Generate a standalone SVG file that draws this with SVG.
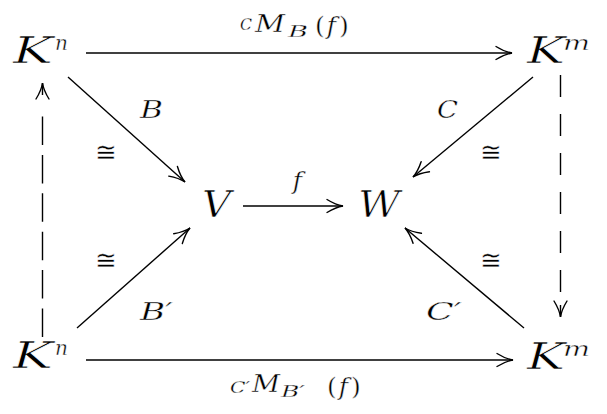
<svg xmlns="http://www.w3.org/2000/svg" width="607" height="414" viewBox="0 0 607 414">
<style>
.m{font-family:'DejaVu Serif',serif;font-style:italic;fill:#000;stroke:#fff;stroke-width:0.4}
.n{font-size:38px;stroke-width:0.65}
.s{font-size:20px;stroke-width:0.4}
.l{font-size:25px}
.sub{font-size:17px;stroke-width:0.3}
.up{font-style:normal}
.iso{font-family:'DejaVu Serif',serif;font-size:26px;font-style:normal;fill:#000;stroke:#fff;stroke-width:0.4}
.ln{stroke:#000;stroke-width:1.4;fill:none}
</style>
<defs>
<marker id="ah" markerUnits="userSpaceOnUse" viewBox="-18 -9 20 18" refX="0" refY="0" markerWidth="20" markerHeight="18" orient="auto" overflow="visible">
<path d="M -16 -6.5 C -10 -2.8 -4 -0.6 0 0 C -4 0.6 -10 2.8 -16 6.5" stroke="#000" stroke-width="1.4" fill="none" stroke-linecap="round"/>
</marker>
</defs>
<rect width="607" height="414" fill="#fff"/>
<g id="connectors">
<path id="e-top" class="ln" d="M 86 53 L 512 53" marker-end="url(#ah)"/>
<path id="e-bottom" class="ln" d="M 86 360 L 513 360" marker-end="url(#ah)"/>
<path id="e-f" class="ln" d="M 243 206 L 343 206" marker-end="url(#ah)"/>
<path id="e-B" class="ln" d="M 68 77 L 185 182" marker-end="url(#ah)"/>
<path id="e-C" class="ln" d="M 533 77 L 413 177" marker-end="url(#ah)"/>
<path id="e-Bp" class="ln" d="M 77 328 L 190 228" marker-end="url(#ah)"/>
<path id="e-Cp" class="ln" d="M 524 328 L 405 228" marker-end="url(#ah)"/>
<path id="e-left" class="ln" d="M 42.5 337 L 42.5 83" stroke-dasharray="28.5 9.9 28.5 9.9 28.5 9.9 28.5 9.9 28.5 9.9 28.5 21.5 12.5" marker-end="url(#ah)"/>
<path id="e-right" class="ln" d="M 560.5 75 L 560.5 317" stroke-dasharray="22 17 22 17 22 17 22 17 22 17 22 13 12" marker-end="url(#ah)"/>
</g>
<g id="labels">
<text class="m" y="30"><tspan class="sub" x="240" textLength="12" lengthAdjust="spacingAndGlyphs">C</tspan><tspan class="l" x="255" y="32" textLength="30" lengthAdjust="spacingAndGlyphs">M</tspan><tspan class="sub" x="288" y="37" textLength="20" lengthAdjust="spacingAndGlyphs">B</tspan><tspan class="l up" x="315" y="34">(</tspan><tspan class="l" dx="2">f</tspan><tspan class="l up" dx="3">)</tspan></text>
<text class="m" y="393"><tspan class="sub" x="230" textLength="20" lengthAdjust="spacingAndGlyphs">C′</tspan><tspan class="l" x="252" y="392" textLength="28" lengthAdjust="spacingAndGlyphs">M</tspan><tspan class="sub" x="281" y="397" textLength="24" lengthAdjust="spacingAndGlyphs">B′</tspan><tspan class="l up" x="327" y="395">(</tspan><tspan class="l" dx="2">f</tspan><tspan class="l up" dx="3">)</tspan></text>
<text class="m l" x="297.5" y="189" text-anchor="middle">f</text>
<text class="m l" x="140" y="118" textLength="23" lengthAdjust="spacingAndGlyphs">B</text>
<text class="m l" x="437" y="118" textLength="21" lengthAdjust="spacingAndGlyphs">C</text>
<text class="m l" x="140" y="320" textLength="33" lengthAdjust="spacingAndGlyphs">B′</text>
<text class="m l" x="426" y="320" textLength="36" lengthAdjust="spacingAndGlyphs">C′</text>
<text class="iso" x="106" y="161" text-anchor="middle">≅</text>
<text class="iso" x="491" y="161" text-anchor="middle">≅</text>
<text class="iso" x="106" y="269" text-anchor="middle">≅</text>
<text class="iso" x="491" y="269" text-anchor="middle">≅</text>
</g>
<g id="node-Kn-top"><text class="m n" x="13" y="63"><tspan textLength="40" lengthAdjust="spacingAndGlyphs">K</tspan><tspan class="s" x="55" y="50">n</tspan></text></g>
<g id="node-Km-top"><text class="m n" x="527" y="63"><tspan textLength="38" lengthAdjust="spacingAndGlyphs">K</tspan><tspan class="s" x="563" y="50" textLength="27" lengthAdjust="spacingAndGlyphs">m</tspan></text></g>
<g id="node-V"><text class="m n" x="202" y="217" textLength="29" lengthAdjust="spacingAndGlyphs">V</text></g>
<g id="node-W"><text class="m n" x="358" y="217" textLength="42" lengthAdjust="spacingAndGlyphs">W</text></g>
<g id="node-Kn-bottom"><text class="m n" x="13" y="368"><tspan textLength="40" lengthAdjust="spacingAndGlyphs">K</tspan><tspan class="s" x="55" y="355">n</tspan></text></g>
<g id="node-Km-bottom"><text class="m n" x="527" y="369"><tspan textLength="38" lengthAdjust="spacingAndGlyphs">K</tspan><tspan class="s" x="563" y="356" textLength="27" lengthAdjust="spacingAndGlyphs">m</tspan></text></g>
</svg>
